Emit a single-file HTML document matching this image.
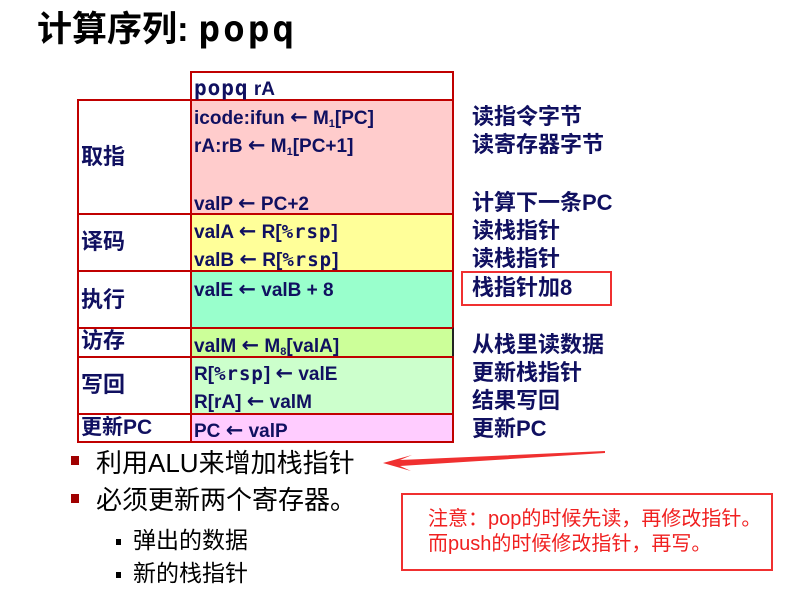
<!DOCTYPE html>
<html><head><meta charset="utf-8"><style>
body{margin:0;width:797px;height:593px;background:#fff;position:relative;overflow:hidden;font-family:"Liberation Sans","Noto Sans CJK SC",sans-serif}
.a{position:absolute;white-space:nowrap}
.c{position:absolute;border:2px solid #c00000;box-sizing:border-box}
.t{position:absolute;white-space:nowrap;color:#101060;font-weight:bold;font-size:19px;line-height:22px}
.m{font-family:"DejaVu Sans Mono","Liberation Mono",monospace !important;letter-spacing:1px}
.r{font-family:"DejaVu Sans",sans-serif;font-size:21px;font-weight:bold}
sub{font-size:11px;vertical-align:-3px}
.sq{position:absolute;background:#a00000;width:8px;height:9px}
.sq2{position:absolute;background:#000;width:5px;height:6px}
</style></head><body>
<div class="a" style="left:37px;top:8px;font-size:35px;font-weight:bold;line-height:44px">计算序列: <span class="m" style="font-size:36px;letter-spacing:3px">popq</span></div>

<div class="c" style="left:190px;top:71px;width:264px;height:30px"></div>
<div class="c" style="left:77px;top:99px;width:115px;height:116px"></div>
<div class="c" style="left:190px;top:99px;width:264px;height:116px;background:#ffcccc"></div>
<div class="c" style="left:77px;top:213px;width:115px;height:59px"></div>
<div class="c" style="left:190px;top:213px;width:264px;height:59px;background:#ffff99"></div>
<div class="c" style="left:77px;top:270px;width:115px;height:59px"></div>
<div class="c" style="left:190px;top:270px;width:264px;height:59px;background:#99ffcc"></div>
<div class="c" style="left:77px;top:327px;width:115px;height:31px"></div>
<div class="c" style="left:190px;top:327px;width:264px;height:31px;background:#ccff99;border-right-color:#222"></div>
<div class="c" style="left:77px;top:356px;width:115px;height:59px"></div>
<div class="c" style="left:190px;top:356px;width:264px;height:59px;background:#ccffcc"></div>
<div class="c" style="left:77px;top:413px;width:115px;height:30px"></div>
<div class="c" style="left:190px;top:413px;width:264px;height:30px;background:#ffccff"></div>

<div class="t" style="left:194px;top:77px"><span class="m" style="font-size:21px">popq</span> rA</div>
<div class="t" style="left:194px;top:106px">icode:ifun <span class="r">←</span> M<sub>1</sub>[PC]</div>
<div class="t" style="left:194px;top:134px">rA:rB <span class="r">←</span> M<sub>1</sub>[PC+1]</div>
<div class="t" style="left:194px;top:192px">valP <span class="r">←</span> PC+2</div>
<div class="t" style="left:194px;top:220px">valA <span class="r">←</span> R[<span class="m">%rsp</span>]</div>
<div class="t" style="left:194px;top:248px">valB <span class="r">←</span> R[<span class="m">%rsp</span>]</div>
<div class="t" style="left:194px;top:278px">valE <span class="r">←</span> valB + 8</div>
<div class="t" style="left:194px;top:334px">valM <span class="r">←</span> M<sub>8</sub>[valA]</div>
<div class="t" style="left:194px;top:362px">R[<span class="m">%rsp</span>] <span class="r">←</span> valE</div>
<div class="t" style="left:194px;top:390px">R[rA] <span class="r">←</span> valM</div>
<div class="t" style="left:194px;top:419px">PC <span class="r">←</span> valP</div>

<div class="t" style="left:81px;top:145px;font-size:22px;line-height:24px">取指</div>
<div class="t" style="left:81px;top:230px;font-size:22px;line-height:24px">译码</div>
<div class="t" style="left:81px;top:288px;font-size:22px;line-height:24px">执行</div>
<div class="t" style="left:81px;top:329px;font-size:22px;line-height:24px">访存</div>
<div class="t" style="left:81px;top:373px;font-size:22px;line-height:24px">写回</div>
<div class="t" style="left:81px;top:416px;font-size:21px;line-height:24px">更新PC</div>

<div class="t" style="left:472px;top:105px;font-size:22px;line-height:24px">读指令字节</div>
<div class="t" style="left:472px;top:133px;font-size:22px;line-height:24px">读寄存器字节</div>
<div class="t" style="left:472px;top:191px;font-size:22px;line-height:24px">计算下一条PC</div>
<div class="t" style="left:472px;top:219px;font-size:22px;line-height:24px">读栈指针</div>
<div class="t" style="left:472px;top:247px;font-size:22px;line-height:24px">读栈指针</div>
<div class="t" style="left:472px;top:276px;font-size:22px;line-height:24px">栈指针加8</div>
<div class="t" style="left:472px;top:333px;font-size:22px;line-height:24px">从栈里读数据</div>
<div class="t" style="left:472px;top:361px;font-size:22px;line-height:24px">更新栈指针</div>
<div class="t" style="left:472px;top:389px;font-size:22px;line-height:24px">结果写回</div>
<div class="t" style="left:472px;top:417px;font-size:22px;line-height:24px">更新PC</div>
<div class="a" style="left:461px;top:271px;width:151px;height:35px;border:2px solid #f03030;box-sizing:border-box"></div>

<div class="sq" style="left:71px;top:456px"></div>
<div class="a" style="left:96px;top:448px;font-size:26px;line-height:30px">利用ALU来增加栈指针</div>
<div class="sq" style="left:71px;top:494px"></div>
<div class="a" style="left:96px;top:485px;font-size:26px;line-height:30px">必须更新两个寄存器。</div>
<div class="sq2" style="left:116px;top:539px"></div>
<div class="a" style="left:133px;top:527px;font-size:23px;line-height:26px">弹出的数据</div>
<div class="sq2" style="left:116px;top:572px"></div>
<div class="a" style="left:133px;top:560px;font-size:23px;line-height:26px">新的栈指针</div>

<svg class="a" style="left:0;top:0" width="797" height="593">
<polygon points="605,451 400,460 412,455 383,463 411,471 400,466 605,453" fill="#f03030"/>
</svg>
<div class="a" style="left:401px;top:493px;width:372px;height:78px;border:2px solid #f03030;box-sizing:border-box"></div>
<div class="a" style="left:428px;top:507px;font-size:20px;line-height:25px;color:#f02020">注意：pop的时候先读，再修改指针。<br>而push的时候修改指针，再写。</div>
</body></html>
